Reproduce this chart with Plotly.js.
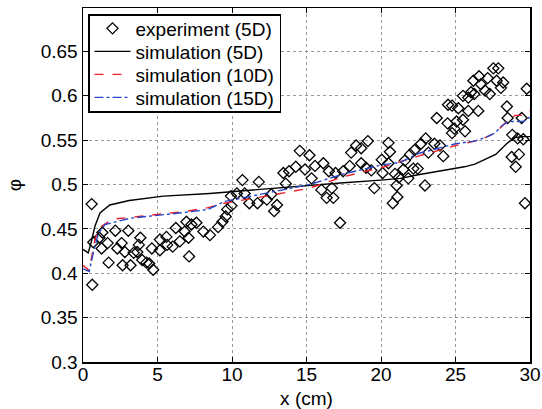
<!DOCTYPE html>
<html>
<head>
<meta charset="utf-8">
<script src="https://cdn.plot.ly/plotly-3.0.1.min.js"></script>
<style>
  html, body { margin: 0; padding: 0; background: #ffffff; }
  #chart { width: 542px; height: 409px; }
</style>
</head>
<body>
<div id="chart"></div>
<script>
// Experiment (5D) measurements
const expX = [0.58,0.62,0.69,1.10,1.30,1.25,1.65,1.72,2.17,2.30,2.59,2.66,2.81,3.04,3.19,3.40,3.64,3.75,3.85,3.97,
  4.26,4.44,4.62,4.71,5.16,5.16,5.60,5.65,6.02,6.23,6.50,6.83,6.94,7.08,7.12,7.28,7.61,8.08,8.52,9.07,
  9.36,9.58,9.68,9.96,9.93,10.33,10.70,10.85,11.16,11.71,11.80,12.34,12.64,12.83,13.02,13.45,13.61,13.83,14.28,14.55,
  14.90,15.20,15.34,15.57,16.00,16.13,16.35,16.50,16.70,16.80,16.95,17.25,17.46,17.90,18.00,18.33,18.67,18.67,19.00,19.12,
  19.35,19.55,20.05,20.11,20.50,20.60,20.50,20.79,20.94,21.05,21.10,21.50,21.60,21.20,21.83,21.95,22.17,22.25,22.46,22.68,
  22.95,23.00,23.18,23.58,23.74,23.96,24.18,24.47,24.50,24.77,24.77,24.92,25.07,25.19,25.50,25.50,25.64,25.86,25.86,26.04,
  26.20,26.26,26.53,26.58,26.70,26.98,27.16,27.30,27.54,27.76,27.87,28.05,28.20,28.45,28.50,28.77,28.81,29.04,29.17,29.26,
  29.44,29.55,29.66,29.78];
const expY = [0.478,0.387,0.435,0.440,0.446,0.428,0.434,0.412,0.448,0.428,0.434,0.409,0.424,0.448,0.409,0.423,0.424,0.432,0.440,0.415,
  0.412,0.411,0.428,0.404,0.438,0.426,0.441,0.432,0.430,0.451,0.436,0.447,0.458,0.440,0.419,0.455,0.457,0.447,0.443,0.452,
  0.458,0.464,0.472,0.476,0.487,0.490,0.505,0.490,0.479,0.479,0.503,0.483,0.489,0.470,0.477,0.513,0.501,0.515,0.520,0.538,
  0.517,0.533,0.507,0.521,0.494,0.524,0.485,0.515,0.496,0.485,0.513,0.457,0.515,0.521,0.536,0.544,0.541,0.524,0.519,0.549,
  0.516,0.496,0.528,0.513,0.547,0.537,0.524,0.479,0.512,0.499,0.486,0.517,0.527,0.508,0.507,0.534,0.518,0.539,0.518,0.546,
  0.499,0.552,0.536,0.546,0.575,0.544,0.532,0.569,0.590,0.589,0.558,0.563,0.571,0.586,0.600,0.573,0.560,0.583,0.598,0.604,
  0.617,0.602,0.583,0.622,0.613,0.606,0.620,0.602,0.631,0.617,0.631,0.609,0.615,0.588,0.575,0.531,0.556,0.520,0.552,0.534,
  0.575,0.551,0.479,0.608];

// Simulation (5D)
const sim5X = [0,0.35,0.55,0.8,1.14,1.8,3.1,5.4,8.5,10,12.5,15.2,17.5,20,21.3,22.5,24,25.6,26.3,27.7,28.5,29,29.5,30];
const sim5Y = [0.427,0.423,0.435,0.453,0.468,0.477,0.482,0.487,0.490,0.492,0.496,0.499,0.502,0.505,0.507,0.511,0.515,0.520,0.523,0.534,0.547,0.553,0.554,0.554];

// Simulation (10D)
const sim10X = [0,0.42,0.6,0.8,1.14,2.0,4.3,7.0,8.4,9.5,12.3,15.2,17.5,20,22.5,25,26.3,27.0,27.65,28.1,28.54,29,29.55,30];
const sim10Y = [0.409,0.403,0.42,0.438,0.452,0.461,0.465,0.470,0.474,0.479,0.487,0.496,0.509,0.519,0.532,0.544,0.549,0.553,0.558,0.566,0.573,0.578,0.578,0.583];

// Simulation (15D)
const sim15X = [0,0.42,0.69,1.03,1.48,3.15,6.5,8.4,9.5,12.3,15.2,17.5,20,21.3,22.5,25,26.3,27.0,27.65,28.1,28.54,29,29.55,30];
const sim15Y = [0.405,0.402,0.423,0.445,0.455,0.462,0.468,0.472,0.481,0.490,0.500,0.512,0.522,0.525,0.535,0.546,0.549,0.553,0.558,0.566,0.571,0.571,0.571,0.576];

const xTicks = [0,5,10,15,20,25,30];
const yTicks = [0.3,0.35,0.4,0.45,0.5,0.55,0.6,0.65];
const yTickText = ['0.3','0.35','0.4','0.45','0.5','0.55','0.6','0.65'];

const traces = [
  {x: expX, y: expY, mode: 'markers', type: 'scatter', name: 'experiment (5D)', legendrank: 1,
   marker: {symbol: 'diamond-open', size: 8.5, color: '#000000', line: {width: 1.3, color: '#000000'}}},
  {x: sim5X, y: sim5Y, mode: 'lines', type: 'scatter', name: 'simulation (5D)', legendrank: 2,
   line: {color: '#000000', width: 1.4}},
  {x: sim10X, y: sim10Y, mode: 'lines', type: 'scatter', name: 'simulation (10D)', legendrank: 3,
   line: {color: 'rgb(235,30,40)', width: 1.4, dash: 'dash'}},
  {x: sim15X, y: sim15Y, mode: 'lines', type: 'scatter', name: 'simulation (15D)', legendrank: 4,
   line: {color: 'rgb(40,70,200)', width: 1.4, dash: 'dashdot'}}
];

const fontFam = 'Liberation Sans, Arial, Helvetica, sans-serif';

const layout = {
  width: 542, height: 409,
  margin: {l: 83, r: 12, t: 8, b: 47},
  paper_bgcolor: '#ffffff', plot_bgcolor: '#ffffff',
  font: {family: fontFam, size: 19, color: '#000000'},
  showlegend: true,
  legend: {
    x: 0.0112, y: 0.983, xanchor: 'left', yanchor: 'top',
    bgcolor: '#ffffff', bordercolor: '#000000', borderwidth: 1.5,
    font: {family: fontFam, size: 19, color: '#000000'},
    tracegroupgap: 0, itemwidth: 36
  },
  xaxis: {
    range: [0, 30], tickvals: xTicks, ticktext: xTicks.map(String),
    showline: true, linecolor: '#000000', linewidth: 1.5, mirror: 'ticks',
    ticks: 'inside', ticklen: 5, tickcolor: '#000000', tickwidth: 1,
    showgrid: true, gridcolor: '#999999', griddash: 'dot', gridwidth: 1,
    zeroline: false, ticklabelstandoff: -5,
    title: {text: 'x (cm)', font: {family: fontFam, size: 19}, standoff: 10},
    tickfont: {family: fontFam, size: 19}
  },
  yaxis: {
    range: [0.3, 0.699], tickvals: yTicks, ticktext: yTickText,
    showline: true, linecolor: '#000000', linewidth: 1.5, mirror: 'ticks',
    ticks: 'inside', ticklen: 5, tickcolor: '#000000', tickwidth: 1,
    showgrid: true, gridcolor: '#999999', griddash: 'dot', gridwidth: 1,
    zeroline: false,
    title: {text: 'φ', font: {family: fontFam, size: 19}, standoff: 14},
    tickfont: {family: fontFam, size: 19}
  }
};

Plotly.newPlot('chart', traces, layout, {displayModeBar: false, staticPlot: true}).then(function (gd) {
  // tighten legend row spacing to match the reference (23 px per row)
  const items = gd.querySelectorAll('.legend .traces');
  if (items.length < 2) return;
  const getY = el => {
    const m = /translate\(\s*([-\d.]+)[ ,]+([-\d.]+)\s*\)/.exec(el.getAttribute('transform') || '');
    return m ? [parseFloat(m[1]), parseFloat(m[2])] : [0, 0];
  };
  const first = getY(items[0]);
  const second = getY(items[1]);
  const oldGap = second[1] - first[1];
  const newGap = 23;
  const lift = 6;
  items.forEach((el, i) => {
    const p = getY(el);
    el.setAttribute('transform', 'translate(' + p[0] + ',' + (first[1] - lift + i * newGap) + ')');
  });
  const bg = gd.querySelector('.legend .bg');
  if (bg) {
    const h = parseFloat(bg.getAttribute('height'));
    bg.setAttribute('height', h - (items.length - 1) * (oldGap - newGap) - 11);
  }
});
</script>
</body>
</html>
